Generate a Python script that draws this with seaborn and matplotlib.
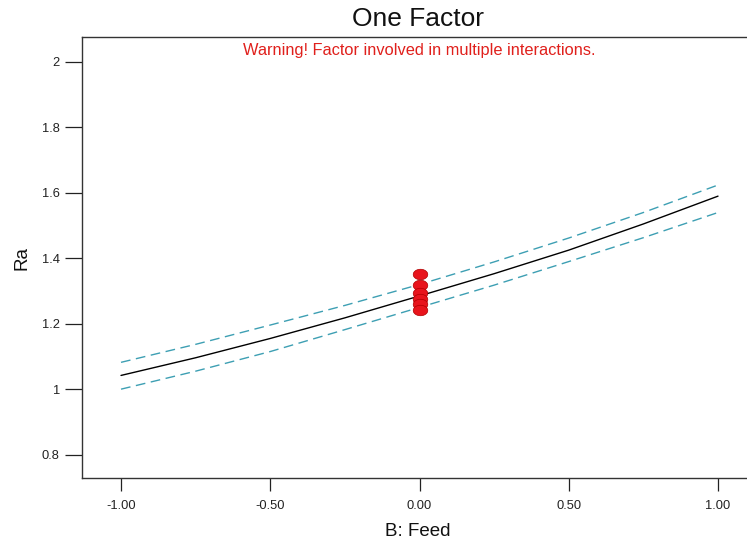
import numpy as np
import pandas as pd
import matplotlib
matplotlib.use("Agg")
import matplotlib.pyplot as plt
from matplotlib.path import Path
import seaborn as sns

# Predicted response and 95% confidence band along B: Feed
feed = [-1.00, -0.75, -0.50, -0.25, 0.00, 0.25, 0.50, 0.75, 1.00]
ra_pred = [1.042, 1.096, 1.155, 1.218, 1.285, 1.353, 1.425, 1.505, 1.590]
ra_upper = [1.082, 1.137, 1.196, 1.256, 1.320, 1.389, 1.462, 1.540, 1.624]
ra_lower = [1.000, 1.055, 1.115, 1.182, 1.250, 1.318, 1.390, 1.463, 1.540]

# Design points at the centre of the feed range
pts_feed = [0.0, 0.0, 0.0, 0.0, 0.0, 0.0]
pts_ra = [1.353, 1.317, 1.295, 1.277, 1.259, 1.243]

xticks = [-1.0, -0.5, 0.0, 0.5, 1.0]
xticklabels = ["-1.00", "-0.50", "0.00", "0.50", "1.00"]
yticks = [0.8, 1.0, 1.2, 1.4, 1.6, 1.8, 2.0]
yticklabels = ["0.8", "1", "1.2", "1.4", "1.6", "1.8", "2"]

sns.set_style("white")
plt.rcParams["font.family"] = ["Liberation Sans", "DejaVu Sans"]

W, H = 747, 540
fig = plt.figure(figsize=(W / 100, H / 100), dpi=100)
ax = fig.add_axes([82 / W, 1 - 478 / H, (W - 82) / W + 0.01, (478 - 37) / H])

curves = pd.DataFrame({"feed": feed, "pred": ra_pred, "upper": ra_upper, "lower": ra_lower})
band_color = "#3d9fb3"
sns.lineplot(data=curves, x="feed", y="upper", ax=ax, color=band_color,
             linewidth=1.0, linestyle=(0, (7, 4)))
sns.lineplot(data=curves, x="feed", y="lower", ax=ax, color=band_color,
             linewidth=1.0, linestyle=(0, (7, 4)))
sns.lineplot(data=curves, x="feed", y="pred", ax=ax, color="black", linewidth=1.0)

# Slightly flattened ellipse marker for the design points
t = np.linspace(0, 2 * np.pi, 40)
ellipse = Path(np.column_stack([np.cos(t), 0.72 * np.sin(t)]), closed=True)
pts = pd.DataFrame({"feed": pts_feed, "ra": pts_ra})
sns.scatterplot(data=pts, x="feed", y="ra", ax=ax, marker=ellipse, s=110,
                color="#e8141c", edgecolor="#b00000", linewidth=0.5, zorder=5)

ax.set_xlim(-1.1307, -1.1307 + (W - 82) / 298.5 + 0.01 * W / 298.5)
ax.set_ylim(0.7285, 2.0764)
ax.set_xticks(xticks)
ax.set_xticklabels(xticklabels)
ax.set_yticks(yticks)
ax.set_yticklabels(yticklabels)
ax.tick_params(axis="both", direction="out", length=9, width=0.9, color="#222222",
               labelsize=9.3, labelcolor="#222222", pad=4,
               bottom=True, left=True, top=False, right=False)
ax.tick_params(axis="y", length=12)
ax.tick_params(axis="x", pad=7)

for side in ["left", "bottom", "top"]:
    ax.spines[side].set_color("#333333")
    ax.spines[side].set_linewidth(1.0)
ax.spines["right"].set_visible(False)

ax.set_xlabel("B: Feed", fontsize=13.5, color="#111111", labelpad=8)
ax.set_ylabel("Ra", fontsize=13.5, color="#111111", labelpad=8)

fig.text(418 / W, 1 - 19 / H, "One Factor", ha="center", va="center",
         fontsize=19, color="#111111")
fig.text(419 / W, 1 - 51 / H, "Warning! Factor involved in multiple interactions.",
         ha="center", va="center", fontsize=11.8, color="#e0201c")

fig.savefig("out.png", dpi=100)
